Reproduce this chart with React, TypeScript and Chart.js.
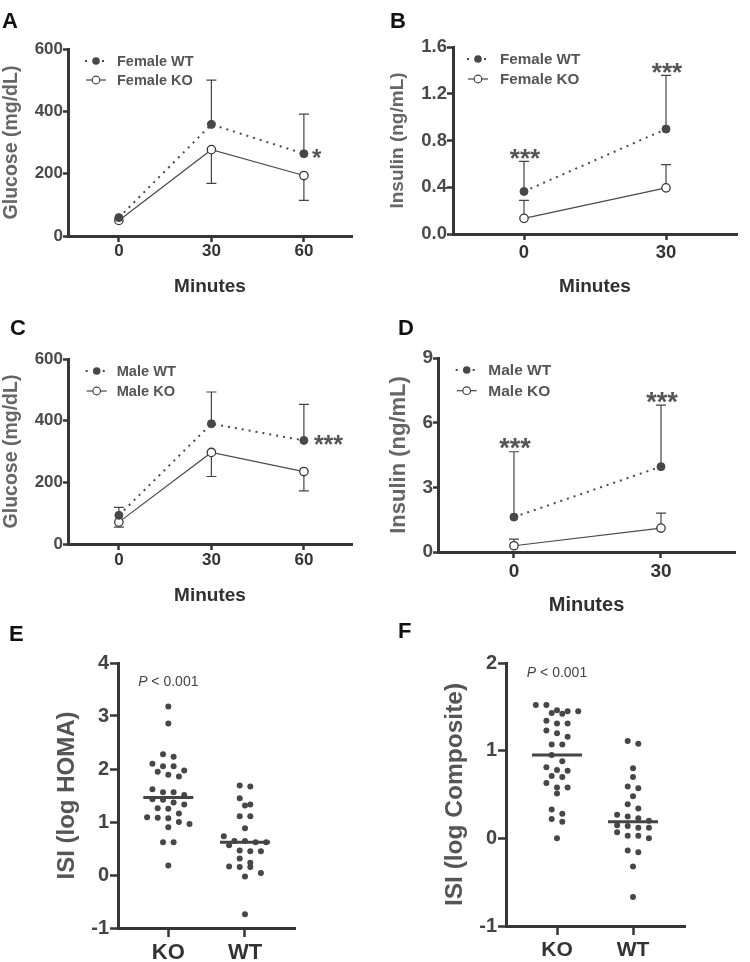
import React, { useEffect, useRef } from "react";
import { Chart, registerables } from "chart.js";

Chart.register(...registerables);

const FONT = '"Liberation Sans", Arial, Helvetica, sans-serif';
Chart.defaults.font.family = FONT;

// ---------------- DATA ----------------
const MINUTES_GLUCOSE = [0, 30, 60];
const MINUTES_INSULIN = [0, 30];

const GLUCOSE_Y_TICKS = [0, 200, 400, 600];
const FEMALE_INSULIN_Y_TICKS = [0, 0.4, 0.8, 1.2, 1.6];
const MALE_INSULIN_Y_TICKS = [0, 3, 6, 9];
const HOMA_Y_TICKS = [-1, 0, 1, 2, 3, 4];
const COMPOSITE_Y_TICKS = [-1, 0, 1, 2];

// Panel A: female glucose (WT SD upward, KO SD downward)
const FEMALE_GLUCOSE_WT = [59, 358, 264];
const FEMALE_GLUCOSE_WT_SD = [0, 142, 127];
const FEMALE_GLUCOSE_KO = [50, 277, 194];
const FEMALE_GLUCOSE_KO_SD = [0, 108, 80];
const FEMALE_GLUCOSE_SIG = ["", "", "*"];

// Panel B: female insulin (both SD upward)
const FEMALE_INSULIN_WT = [0.364, 0.898];
const FEMALE_INSULIN_WT_SD = [0.258, 0.46];
const FEMALE_INSULIN_KO = [0.134, 0.395];
const FEMALE_INSULIN_KO_SD = [0.153, 0.199];
const FEMALE_INSULIN_SIG = ["***", "***"];

// Panel C: male glucose (WT SD upward, KO SD downward)
const MALE_GLUCOSE_WT = [93, 390, 336];
const MALE_GLUCOSE_WT_SD = [26, 103, 117];
const MALE_GLUCOSE_KO = [71, 297, 235];
const MALE_GLUCOSE_KO_SD = [16, 78, 63];
const MALE_GLUCOSE_SIG = ["", "", "***"];

// Panel D: male insulin (both SD upward)
const MALE_INSULIN_WT = [1.62, 3.96];
const MALE_INSULIN_WT_SD = [3.03, 2.85];
const MALE_INSULIN_KO = [0.29, 1.11];
const MALE_INSULIN_KO_SD = [0.31, 0.69];
const MALE_INSULIN_SIG = ["***", "***"];

// Panels E / F: individual ISI values
const GROUPS = ["KO", "WT"];
const HOMA_KO = [3.18, 2.86, 2.28, 2.23, 2.1, 2.05, 2.05, 1.97, 1.95, 1.89, 1.86, 1.62, 1.56, 1.56, 1.51, 1.43, 1.42, 1.37, 1.33, 1.26, 1.25, 1.16, 1.09, 1.08, 1.07, 1.0, 0.96, 0.9, 0.62, 0.62, 0.18];
const HOMA_WT = [1.69, 1.67, 1.45, 1.33, 1.31, 1.11, 1.11, 0.88, 0.73, 0.64, 0.64, 0.62, 0.62, 0.56, 0.46, 0.45, 0.45, 0.31, 0.23, 0.16, 0.15, 0.15, 0.04, -0.03, -0.74];
const HOMA_CENTER = [1.46, 0.62];
const COMPOSITE_KO = [1.52, 1.52, 1.46, 1.45, 1.45, 1.43, 1.42, 1.34, 1.31, 1.31, 1.23, 1.2, 1.16, 1.07, 1.07, 0.95, 0.88, 0.81, 0.78, 0.77, 0.71, 0.7, 0.63, 0.58, 0.58, 0.51, 0.33, 0.28, 0.22, 0.19, 0.0];
const COMPOSITE_WT = [1.11, 1.08, 0.8, 0.7, 0.59, 0.57, 0.48, 0.39, 0.34, 0.27, 0.25, 0.23, 0.2, 0.15, 0.14, 0.12, 0.12, 0.07, 0.03, 0.03, 0.0, -0.14, -0.16, -0.32, -0.67];
const COMPOSITE_CENTER = [0.95, 0.19];
const P_TEXT = ["P", " < 0.001"];

// ---------------- STYLE ----------------
const AXIS = "#363636";
const MARK = "#474747";

// ---------------- LAYOUT / PANELS ----------------
const LINE_PANELS: any[] = [
  {
    letter: "A", letterX: 2, letterY: 28,
    box: { x: 0, y: 0, w: 370, h: 310 }, area: { l: 68, t: 49, r: 352, b: 236 },
    xMin: -16.5, xMax: 75.6, minutes: MINUTES_GLUCOSE, yTicks: GLUCOSE_Y_TICKS, yDec: 0,
    yTitle: "Glucose (mg/dL)", yTitleX: 12, yTitleSize: 19.5, xTitleY: 287, xTitleSize: 19,
    tickSize: 17, xTickPad: -1, yTickLen: 5,
    wt: FEMALE_GLUCOSE_WT, wtSd: FEMALE_GLUCOSE_WT_SD, wtDir: 1,
    ko: FEMALE_GLUCOSE_KO, koSd: FEMALE_GLUCOSE_KO_SD, koDir: -1,
    labels: ["Female WT", "Female KO"],
    legend: { mx: 28, tx: 49, y1: 12, y2: 31, size: 14.5 },
    sig: FEMALE_GLUCOSE_SIG, sigMode: "right", sigGap: 8, sigSize: 24,
  },
  {
    letter: "B", letterX: 390, letterY: 28,
    box: { x: 370, y: 0, w: 380, h: 310 }, area: { l: 453, t: 47, r: 737, b: 234 },
    xMin: -15, xMax: 45, minutes: MINUTES_INSULIN, yTicks: FEMALE_INSULIN_Y_TICKS, yDec: 1,
    yTitle: "Insulin (ng/mL)", yTitleX: 398, yTitleSize: 19, xTitleY: 287, xTitleSize: 19,
    tickSize: 18.5, xTickPad: 1.5, yTickLen: 6,
    wt: FEMALE_INSULIN_WT, wtSd: FEMALE_INSULIN_WT_SD, wtDir: 1,
    ko: FEMALE_INSULIN_KO, koSd: FEMALE_INSULIN_KO_SD, koDir: 1,
    labels: ["Female WT", "Female KO"],
    legend: { mx: 25, tx: 47, y1: 12, y2: 32, size: 15.2 },
    sig: FEMALE_INSULIN_SIG, sigMode: "above", sigGap: 9, sigSize: 26,
  },
  {
    letter: "C", letterX: 10, letterY: 335,
    box: { x: 0, y: 310, w: 370, h: 310 }, area: { l: 68, t: 359, r: 352, b: 544 },
    xMin: -16.5, xMax: 75.6, minutes: MINUTES_GLUCOSE, yTicks: GLUCOSE_Y_TICKS, yDec: 0,
    yTitle: "Glucose (mg/dL)", yTitleX: 12, yTitleSize: 19.5, xTitleY: 596, xTitleSize: 19,
    tickSize: 17, xTickPad: 0, yTickLen: 5,
    wt: MALE_GLUCOSE_WT, wtSd: MALE_GLUCOSE_WT_SD, wtDir: 1,
    ko: MALE_GLUCOSE_KO, koSd: MALE_GLUCOSE_KO_SD, koDir: -1,
    labels: ["Male WT", "Male KO"],
    legend: { mx: 28.7, tx: 48.7, y1: 12, y2: 32, size: 14.6 },
    sig: MALE_GLUCOSE_SIG, sigMode: "right", sigGap: 10, sigSize: 25,
  },
  {
    letter: "D", letterX: 398, letterY: 335,
    box: { x: 370, y: 310, w: 380, h: 310 }, area: { l: 438, t: 358, r: 735, b: 552 },
    xMin: -15.5, xMax: 45.1, minutes: MINUTES_INSULIN, yTicks: MALE_INSULIN_Y_TICKS, yDec: 0,
    yTitle: "Insulin (ng/mL)", yTitleX: 399, yTitleSize: 22, xTitleY: 605.5, xTitleSize: 20,
    tickSize: 19, xTickPad: 2, yTickLen: 5,
    wt: MALE_INSULIN_WT, wtSd: MALE_INSULIN_WT_SD, wtDir: 1,
    ko: MALE_INSULIN_KO, koSd: MALE_INSULIN_KO_SD, koDir: 1,
    labels: ["Male WT", "Male KO"],
    legend: { mx: 28.7, tx: 50.3, y1: 12, y2: 32.7, size: 15.5 },
    sig: MALE_INSULIN_SIG, sigMode: "above", sigGap: 10, sigSize: 27,
  },
];

const DOT_PANELS: any[] = [
  {
    letter: "E", letterX: 9, letterY: 640.7,
    box: { x: 0, y: 620, w: 370, h: 342 }, area: { l: 118, t: 663, r: 295, b: 928 },
    xMin: -0.656, xMax: 1.652, yTicks: HOMA_Y_TICKS,
    yTitle: "ISI (log HOMA)", yTitleX: 67, yTitleSize: 24,
    series: [HOMA_KO, HOMA_WT], centers: HOMA_CENTER, pY: 682,
    tickSize: 20, catSize: 22,
  },
  {
    letter: "F", letterX: 398, letterY: 638.3,
    box: { x: 370, y: 620, w: 380, h: 342 }, area: { l: 506, t: 663, r: 685, b: 926 },
    xMin: -0.671, xMax: 1.684, yTicks: COMPOSITE_Y_TICKS,
    yTitle: "ISI (log Composite)", yTitleX: 455, yTitleSize: 24.5,
    series: [COMPOSITE_KO, COMPOSITE_WT], centers: COMPOSITE_CENTER, pY: 673,
    tickSize: 20, catSize: 21,
  },
];

// ---------------- HELPERS ----------------
function drawLetter(ctx: any, p: any) {
  ctx.save();
  ctx.font = `bold 22px ${FONT}`;
  ctx.fillStyle = "#111";
  ctx.textAlign = "left";
  ctx.textBaseline = "alphabetic";
  ctx.fillText(p.letter, p.letterX - p.box.x, p.letterY - p.box.y);
  ctx.restore();
}

function tickFixer(ticks: number[]) {
  return (s: any) => {
    s.ticks = ticks.map((v) => ({ value: v }));
  };
}

// Prism-like row swarm: values within rowPx share a row, centred on the category
function swarm(values: number[], cat: number, pxX: number, pxY: number) {
  const rowPx = 7;
  const stepPx = 10.6;
  const sorted = values.slice().sort((a, b) => b - a);
  const pts: any[] = [];
  let i = 0;
  while (i < sorted.length) {
    const start = sorted[i];
    let j = i;
    while (j < sorted.length && (start - sorted[j]) * pxY < rowPx) j++;
    const n = j - i;
    for (let k = 0; k < n; k++) {
      pts.push({ x: cat + ((k - (n - 1) / 2) * stepPx) / pxX, y: sorted[i + k] });
    }
    i = j;
  }
  return pts;
}

function axisCommon(tickLen: number) {
  return {
    border: { display: true, color: AXIS, width: 3 },
    grid: {
      display: true, drawOnChartArea: false, drawTicks: true,
      tickLength: tickLen, tickWidth: 2.5, tickColor: AXIS,
    },
  };
}

function lineConfig(p: any): any {
  const yLH = p.yTitleSize * 1.2;
  const xLH = p.xTitleSize * 1.2;
  const decor = {
    id: "decor",
    beforeDatasetsDraw(chart: any) {
      const { ctx } = chart;
      const x = chart.scales.x;
      const y = chart.scales.y;
      ctx.save();
      ctx.strokeStyle = "#444";
      ctx.lineWidth = 1.2;
      const series = [
        [p.wt, p.wtSd, p.wtDir],
        [p.ko, p.koSd, p.koDir],
      ];
      series.forEach(([vals, sds, dir]: any) => {
        vals.forEach((v: number, i: number) => {
          if (!sds[i]) return;
          const px = x.getPixelForValue(p.minutes[i]);
          const y0 = y.getPixelForValue(v);
          const y1 = y.getPixelForValue(v + dir * sds[i]);
          ctx.beginPath();
          ctx.moveTo(px, y0);
          ctx.lineTo(px, y1);
          ctx.moveTo(px - 5, y1);
          ctx.lineTo(px + 5, y1);
          ctx.stroke();
        });
      });
      ctx.restore();
    },
    afterDatasetsDraw(chart: any) {
      const { ctx, chartArea } = chart;
      const x = chart.scales.x;
      const y = chart.scales.y;
      // legend
      const L = p.legend;
      const mx = chartArea.left + L.mx;
      const yA = chartArea.top + L.y1;
      const yB = chartArea.top + L.y2;
      ctx.save();
      ctx.fillStyle = MARK;
      [-10, 7].forEach((dx) => ctx.fillRect(mx + dx - 1, yA - 1, 2, 2));
      ctx.beginPath();
      ctx.arc(mx, yA, 3.8, 0, Math.PI * 2);
      ctx.fill();
      ctx.strokeStyle = "#444";
      ctx.lineWidth = 1.2;
      ctx.beginPath();
      ctx.moveTo(mx - 10, yB);
      ctx.lineTo(mx + 10, yB);
      ctx.stroke();
      ctx.fillStyle = "#fff";
      ctx.beginPath();
      ctx.arc(mx, yB, 3.8, 0, Math.PI * 2);
      ctx.fill();
      ctx.stroke();
      ctx.fillStyle = "#555";
      ctx.font = `bold ${L.size}px ${FONT}`;
      ctx.textAlign = "left";
      ctx.textBaseline = "middle";
      ctx.fillText(p.labels[0], chartArea.left + L.tx, yA + 1);
      ctx.fillText(p.labels[1], chartArea.left + L.tx, yB + 1);
      // significance
      ctx.fillStyle = "#555";
      ctx.font = `bold ${p.sigSize}px ${FONT}`;
      ctx.textBaseline = "alphabetic";
      const lift = p.sigSize * 0.575;
      p.sig.forEach((s: string, i: number) => {
        if (!s) return;
        const px = x.getPixelForValue(p.minutes[i]);
        if (p.sigMode === "right") {
          const py = y.getPixelForValue(p.wt[i]);
          ctx.textAlign = "left";
          ctx.fillText(s, px + p.sigGap, py + lift - 2);
        } else {
          const py = y.getPixelForValue(p.wt[i] + p.wtSd[i]);
          ctx.textAlign = "center";
          ctx.fillText(s, px + 1, py - p.sigGap + lift);
        }
      });
      ctx.restore();
      drawLetter(ctx, p);
    },
  };

  return {
    type: "line",
    data: {
      datasets: [
        {
          label: p.labels[0],
          data: p.minutes.map((m: number, i: number) => ({ x: m, y: p.wt[i] })),
          borderColor: "#4a4a4a",
          borderWidth: 2,
          borderDash: [2, 5],
          pointRadius: 4,
          pointBackgroundColor: MARK,
          pointBorderColor: MARK,
          pointBorderWidth: 1,
          tension: 0,
          order: 0,
          clip: false,
        },
        {
          label: p.labels[1],
          data: p.minutes.map((m: number, i: number) => ({ x: m, y: p.ko[i] })),
          borderColor: "#4a4a4a",
          borderWidth: 1.2,
          pointRadius: 4.2,
          pointBackgroundColor: "#ffffff",
          pointBorderColor: "#383838",
          pointBorderWidth: 1.3,
          tension: 0,
          order: 1,
          clip: false,
        },
      ],
    },
    options: {
      responsive: false,
      animation: false,
      devicePixelRatio: 1,
      events: [],
      layout: {
        padding: {
          left: 0,
          top: p.area.t - p.box.y,
          right: p.box.x + p.box.w - p.area.r,
          bottom: 0,
        },
      },
      plugins: { legend: { display: false }, tooltip: { enabled: false } },
      scales: {
        x: {
          type: "linear",
          min: p.xMin,
          max: p.xMax,
          afterBuildTicks: tickFixer(p.minutes),
          afterFit: (s: any) => {
            s.height = p.box.y + p.box.h - p.area.b;
          },
          ...axisCommon(6),
          ticks: {
            color: "#333",
            font: { size: p.tickSize, weight: "bold" },
            padding: p.xTickPad,
            maxRotation: 0,
            autoSkip: false,
            callback: (v: any) => String(v),
          },
          title: {
            display: true,
            text: "Minutes",
            color: "#303030",
            font: { size: p.xTitleSize, weight: "bold" },
            padding: { top: 0, bottom: p.box.y + p.box.h - p.xTitleY - xLH / 2 },
          },
        },
        y: {
          type: "linear",
          min: p.yTicks[0],
          max: p.yTicks[p.yTicks.length - 1],
          afterBuildTicks: tickFixer(p.yTicks),
          afterFit: (s: any) => {
            s.width = p.area.l - p.box.x;
          },
          ...axisCommon(p.yTickLen),
          ticks: {
            color: "#4a4a4a",
            font: { size: p.tickSize, weight: "bold" },
            padding: 0,
            autoSkip: false,
            callback: (v: any) => Number(v).toFixed(p.yDec),
          },
          title: {
            display: true,
            text: p.yTitle,
            color: "#666",
            font: { size: p.yTitleSize, weight: "bold" },
            padding: { top: p.yTitleX - p.box.x - yLH / 2, bottom: 0 },
          },
        },
      },
    },
    plugins: [decor],
  };
}

function dotConfig(p: any): any {
  const yMin = p.yTicks[0];
  const yMax = p.yTicks[p.yTicks.length - 1];
  const pxX = (p.area.r - p.area.l) / (p.xMax - p.xMin);
  const pxY = (p.area.b - p.area.t) / (yMax - yMin);
  const yLH = p.yTitleSize * 1.2;
  const decor = {
    id: "decor",
    afterDatasetsDraw(chart: any) {
      const { ctx } = chart;
      const x = chart.scales.x;
      const y = chart.scales.y;
      ctx.save();
      ctx.strokeStyle = "#444";
      ctx.lineWidth = 3;
      p.centers.forEach((c: number, i: number) => {
        const px = x.getPixelForValue(i);
        const py = y.getPixelForValue(c);
        ctx.beginPath();
        ctx.moveTo(px - 25, py);
        ctx.lineTo(px + 25, py);
        ctx.stroke();
      });
      // P value
      ctx.fillStyle = "#444";
      ctx.textBaseline = "middle";
      ctx.textAlign = "left";
      ctx.font = `italic 14px ${FONT}`;
      const wP = ctx.measureText(P_TEXT[0]).width;
      ctx.font = `14px ${FONT}`;
      const wR = ctx.measureText(P_TEXT[1]).width;
      const cx = x.getPixelForValue(0);
      const sx = cx - (wP + wR) / 2;
      const sy = p.pY - p.box.y;
      ctx.font = `italic 14px ${FONT}`;
      ctx.fillText(P_TEXT[0], sx, sy);
      ctx.font = `14px ${FONT}`;
      ctx.fillText(P_TEXT[1], sx + wP, sy);
      ctx.restore();
      drawLetter(ctx, p);
    },
  };
  return {
    type: "scatter",
    data: {
      datasets: p.series.map((vals: number[], ci: number) => ({
        label: GROUPS[ci],
        data: swarm(vals, ci, pxX, pxY),
        pointRadius: 3,
        pointBackgroundColor: MARK,
        pointBorderColor: MARK,
        pointBorderWidth: 0,
        showLine: false,
        clip: false,
      })),
    },
    options: {
      responsive: false,
      animation: false,
      devicePixelRatio: 1,
      events: [],
      layout: {
        padding: {
          left: 0,
          top: p.area.t - p.box.y,
          right: p.box.x + p.box.w - p.area.r,
          bottom: 0,
        },
      },
      plugins: { legend: { display: false }, tooltip: { enabled: false } },
      scales: {
        x: {
          type: "linear",
          min: p.xMin,
          max: p.xMax,
          afterBuildTicks: tickFixer([0, 1]),
          afterFit: (s: any) => {
            s.height = p.box.y + p.box.h - p.area.b;
          },
          ...axisCommon(9),
          ticks: {
            color: "#333",
            font: { size: p.catSize, weight: "bold" },
            padding: 3,
            maxRotation: 0,
            autoSkip: false,
            callback: (v: any) => GROUPS[Number(v)] ?? "",
          },
        },
        y: {
          type: "linear",
          min: yMin,
          max: yMax,
          afterBuildTicks: tickFixer(p.yTicks),
          afterFit: (s: any) => {
            s.width = p.area.l - p.box.x;
          },
          ...axisCommon(8),
          ticks: {
            color: "#444",
            font: { size: p.tickSize, weight: "bold" },
            padding: 1,
            autoSkip: false,
            callback: (v: any) => String(v),
          },
          title: {
            display: true,
            text: p.yTitle,
            color: "#555",
            font: { size: p.yTitleSize, weight: "bold" },
            padding: { top: p.yTitleX - p.box.x - yLH / 2, bottom: 0 },
          },
        },
      },
    },
    plugins: [decor],
  };
}

function PanelCanvas({ panel, build }: { panel: any; build: (p: any) => any }) {
  const ref = useRef<HTMLCanvasElement | null>(null);
  useEffect(() => {
    if (!ref.current) return;
    const chart = new Chart(ref.current, build(panel));
    return () => chart.destroy();
  }, [panel, build]);
  return (
    <canvas
      ref={ref}
      width={panel.box.w}
      height={panel.box.h}
      style={{
        position: "absolute",
        left: panel.box.x,
        top: panel.box.y,
        width: panel.box.w,
        height: panel.box.h,
      }}
    />
  );
}

export default function App() {
  return (
    <div
      style={{
        position: "absolute",
        left: 0,
        top: 0,
        width: 750,
        height: 962,
        background: "#ffffff",
        overflow: "hidden",
      }}
    >
      {LINE_PANELS.map((p) => (
        <PanelCanvas key={p.letter} panel={p} build={lineConfig} />
      ))}
      {DOT_PANELS.map((p) => (
        <PanelCanvas key={p.letter} panel={p} build={dotConfig} />
      ))}
    </div>
  );
}
